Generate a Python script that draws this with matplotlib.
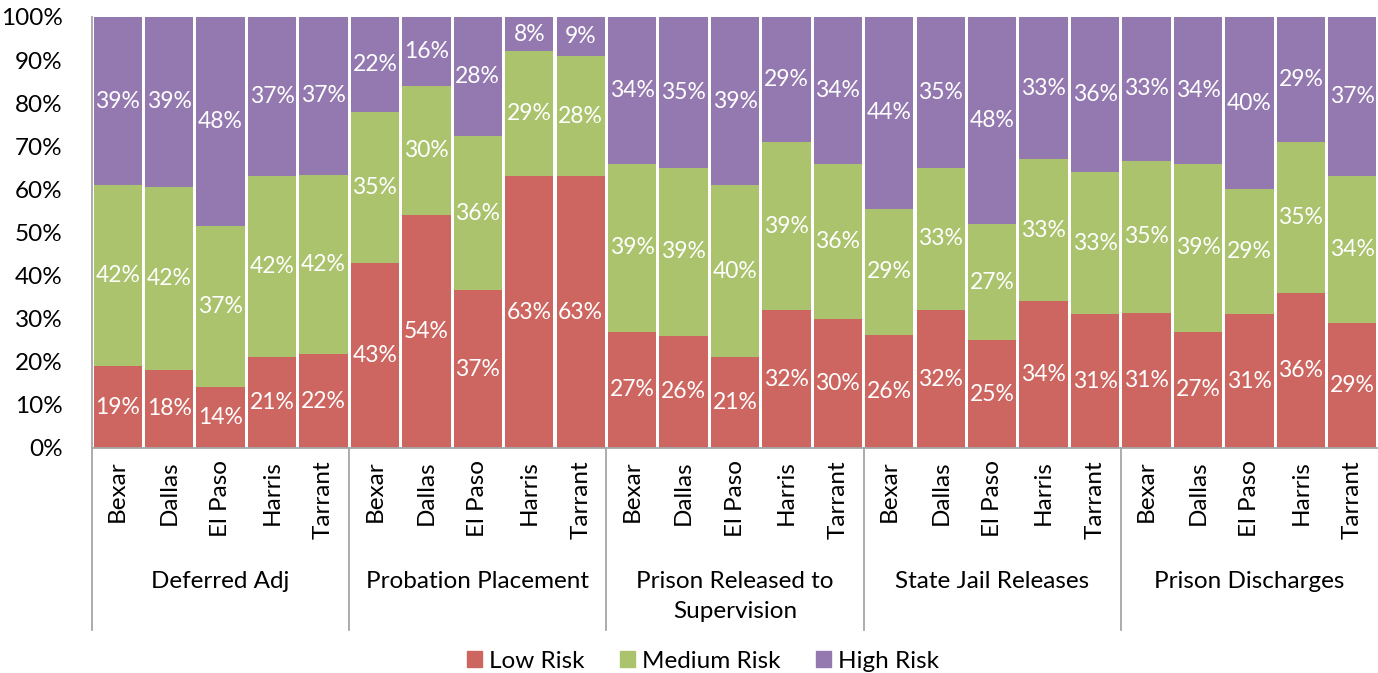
import matplotlib
matplotlib.use("Agg")
import matplotlib.pyplot as plt
from matplotlib.patches import Patch
from matplotlib.transforms import blended_transform_factory
import numpy as np

plt.rcParams['font.family'] = ['Lato', 'DejaVu Sans']

groups = ["Deferred Adj", "Probation Placement", "Prison Released to\nSupervision",
          "State Jail Releases", "Prison Discharges"]
counties = ["Bexar", "Dallas", "El Paso", "Harris", "Tarrant"]

low_risk = [19, 18, 14, 21, 22,
            43, 54, 37, 63, 63,
            27, 26, 21, 32, 30,
            26, 32, 25, 34, 31,
            31, 27, 31, 36, 29]
medium_risk = [42, 42, 37, 42, 42,
               35, 30, 36, 29, 28,
               39, 39, 40, 39, 36,
               29, 33, 27, 33, 33,
               35, 39, 29, 35, 34]
high_risk = [39, 39, 48, 37, 37,
             22, 16, 28, 8, 9,
             34, 35, 39, 29, 34,
             44, 35, 48, 33, 36,
             33, 34, 40, 29, 37]

series = [("Low Risk", low_risk, "#CD6660"),
          ("Medium Risk", medium_risk, "#AAC36C"),
          ("High Risk", high_risk, "#9379B0")]

W, H = 1378, 673
fig = plt.figure(figsize=(W / 100, H / 100), dpi=100)
ax = fig.add_axes([92 / W, 1 - 448 / H, (1378 - 92) / W, (448 - 17) / H])

n = len(low_risk)
x = np.arange(n)
# 100% stacked columns: each column's values are taken as shares of its total
totals = np.array(low_risk) + np.array(medium_risk) + np.array(high_risk)
bottom = np.zeros(n)
for name, vals, color in series:
    vals = np.array(vals, dtype=float)
    share = vals / totals * 100
    ax.bar(x, share, bottom=bottom, width=0.94, color=color, linewidth=0)
    for xi, b, s, v in zip(x, bottom, share, vals):
        ax.text(xi, b + s / 2, f"{int(v)}%", ha="center", va="center",
                color="white", fontsize=16.5)
    bottom += share

ax.set_xlim(-0.5, n - 0.5)
ax.set_ylim(0, 100)
ax.set_yticks(np.arange(0, 101, 10))
ax.set_yticklabels([f"{t}%" for t in range(0, 101, 10)])
ax.tick_params(axis="y", length=0, pad=21, labelsize=17.5)
ax.set_xticks([])
for side in ("top", "right"):
    ax.spines[side].set_visible(False)
for side in ("left", "bottom"):
    ax.spines[side].set_color("#A6A6A6")
    ax.spines[side].set_linewidth(1.3)

# two-level category axis
trans = blended_transform_factory(ax.transData, fig.transFigure)
line_bottom = 1 - 630 / H
axis_bottom = 1 - 448 / H
for g in range(len(groups)):
    xb = g * 5 - 0.5
    ax.plot([xb, xb], [line_bottom, axis_bottom], transform=trans, color="#A6A6A6",
            linewidth=1.3, clip_on=False)
    for k, c in enumerate(counties):
        ax.text(g * 5 + k, 1 - 460 / H, c, rotation=90, ha="center", va="top",
                fontsize=17.5, transform=trans)
    ax.text(g * 5 + 2, 1 - 571 / H, groups[g], ha="center", va="top",
            fontsize=17.5, transform=trans, linespacing=1.5)

handles = [Patch(color=c, label=nm) for nm, _, c in series]
fig.legend(handles=handles, loc="center", bbox_to_anchor=(703 / W, 1 - 661 / H),
           ncol=3, frameon=False, fontsize=17.5, handlelength=0.62, handleheight=0.62,
           handletextpad=0.3, columnspacing=1.45)

fig.savefig("out.png", dpi=100)
